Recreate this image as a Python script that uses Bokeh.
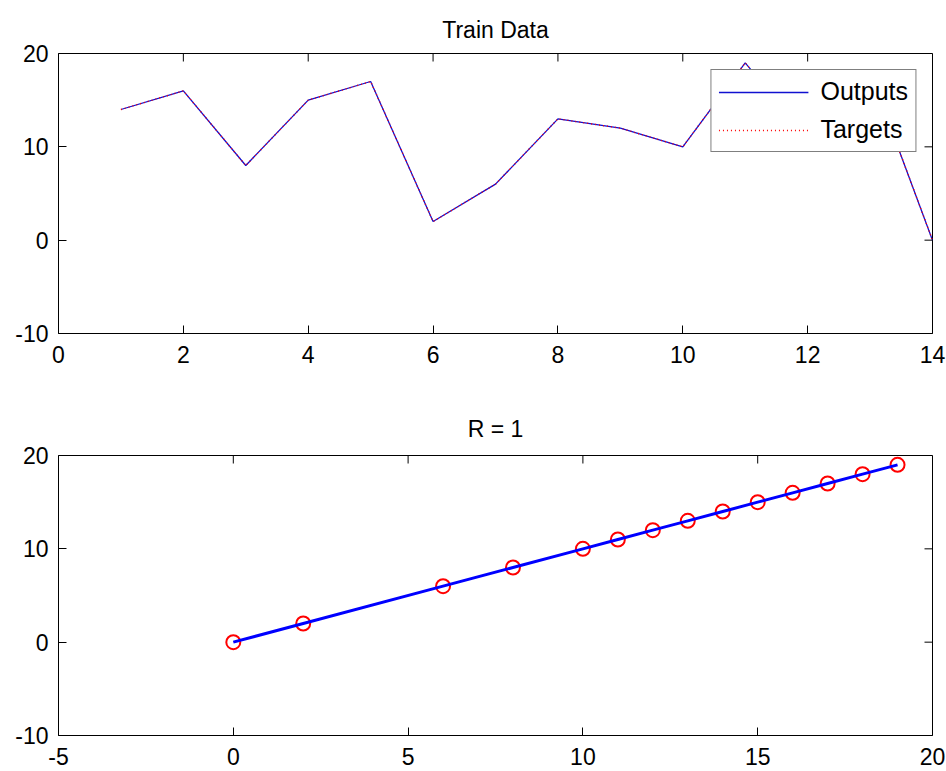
import math
from bokeh.plotting import figure
from bokeh.layouts import column
from bokeh.models import FixedTicker, Range1d, Legend, LegendItem
from bokeh.embed import file_html
from bokeh.resources import INLINE

# ---- data ----
train_x = [1, 2, 3, 4, 5, 6, 7, 8, 9, 10, 11, 12, 13, 14]
train_outputs = [14, 16, 8, 15, 17, 2, 6, 13, 12, 10, 19, 11, 18, 0]
train_targets = [14, 16, 8, 15, 17, 2, 6, 13, 12, 10, 19, 11, 18, 0]

reg_targets = [0, 2, 6, 8, 10, 11, 12, 13, 14, 15, 16, 17, 18, 19]
reg_outputs = [0, 2, 6, 8, 10, 11, 12, 13, 14, 15, 16, 17, 18, 19]

y_ticks = [-10, 0, 10, 20]
top_x_ticks = [0, 2, 4, 6, 8, 10, 12, 14]
bottom_x_ticks = [-5, 0, 5, 10, 15, 20]

FONT = "Liberation Sans"
FS = "23px"


def style_axis(ax, ticks, standoff):
    ax.ticker = FixedTicker(ticks=ticks)
    ax.major_label_overrides = {t: str(t) for t in ticks}
    ax.major_tick_in = 8
    ax.major_tick_out = 0
    ax.minor_tick_in = 0
    ax.minor_tick_out = 0
    ax.axis_line_color = None
    ax.major_tick_line_color = "black"
    ax.major_tick_line_width = 1
    ax.major_label_text_font = FONT
    ax.major_label_text_color = "black"
    ax.major_label_text_font_size = FS
    ax.major_label_standoff = standoff


def make_fig(title, xr, xticks, top_border, bottom_border, title_standoff):
    p = figure(frame_width=874, frame_height=280,
               x_range=Range1d(*xr), y_range=Range1d(-10, 20),
               output_backend="svg", toolbar_location=None,
               min_border_left=58, min_border_right=14,
               min_border_top=top_border, min_border_bottom=bottom_border,
               background_fill_color="white", border_fill_color="white")
    p.title.text = title
    p.title.align = "center"
    p.title.text_font = FONT
    p.title.text_font_size = FS
    p.title.text_font_style = "normal"
    p.title.text_color = "black"
    p.title.standoff = title_standoff
    p.outline_line_color = "black"
    p.outline_line_width = 1
    p.outline_line_alpha = 1
    p.xgrid.visible = False
    p.ygrid.visible = False
    style_axis(p.xaxis[0], xticks, 12)
    style_axis(p.yaxis[0], y_ticks, 10)
    # box ticks on the top and right edges (MATLAB "box on")
    p.ray(x=xticks, y=[p.y_range.end] * len(xticks), length=8,
          length_units="screen", angle=-math.pi / 2,
          line_color="black", line_width=1)
    p.ray(x=[p.x_range.end] * len(y_ticks), y=y_ticks, length=8,
          length_units="screen", angle=math.pi,
          line_color="black", line_width=1)
    return p


p1 = make_fig("Train Data", (0, 14), top_x_ticks, 53, 62, 21)
r_out = p1.line(train_x, train_outputs, line_color="#1010d0", line_width=1.3)
r_tgt = p1.line(train_x, train_targets, line_color="#ff0000", line_width=1.4,
                line_dash="1 3")
legend = Legend(items=[LegendItem(label="Outputs", renderers=[r_out]),
                       LegendItem(label="Targets", renderers=[r_tgt])],
                location="top_right", margin=16, padding=7, spacing=9,
                glyph_width=90, glyph_height=24, label_height=24,
                label_standoff=12, label_text_font=FONT,
                label_text_font_size="25px", label_text_color="black",
                border_line_color="black", border_line_width=1,
                background_fill_color="white", background_fill_alpha=1)
p1.add_layout(legend)

p2 = make_fig("R = 1", (-5, 20), bottom_x_ticks, 60, 36, 28)
p2.scatter(reg_targets, reg_outputs, marker="circle", size=14,
           fill_color=None, line_color="#ff0000", line_width=2)
p2.line(reg_targets, reg_outputs, line_color="#0000ff", line_width=3)

layout = column(p1, p2, spacing=0)
open("out.html", "w").write(file_html(layout, INLINE))
